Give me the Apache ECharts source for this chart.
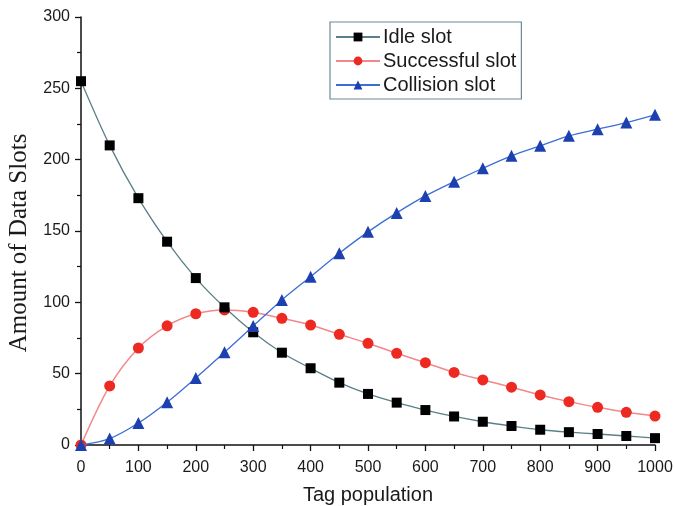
<!DOCTYPE html>
<html>
<head>
<meta charset="utf-8">
<script src="https://cdn.jsdelivr.net/npm/echarts@6/dist/echarts.min.js"></script>
<style>html,body{margin:0;padding:0;background:#fff}#c{width:674px;height:506px}</style>
</head>
<body>
<div id="c"></div>
<script>
const tagPopulation = [0,50,100,150,200,250,300,350,400,450,500,550,600,650,700,750,800,850,900,950,1000];
const idleSlot = [255,210,173,142.5,117,96.5,79,64.7,53.8,43.7,35.8,29.7,24.5,20,16.3,13.3,10.7,9,7.7,6.3,4.8];
const successfulSlot = [0,41.4,68,83.5,92,94.7,93,88.8,84.1,77.6,71.3,64.3,57.7,50.9,45.6,40.5,35.1,30.4,26.4,22.9,20.3];
const collisionSlot = [0,4.5,15.4,30,47,65,83.4,101.7,118,134.4,149.4,162.7,174.6,184.6,194,202.7,209.7,216.7,221.4,226,231.4];

const pairs = ys => tagPopulation.map((x, i) => [x, ys[i]]);
const chart = echarts.init(document.getElementById('c'));
const axisText = {color:'#1a1a1a', fontFamily:'Liberation Sans, Arial', fontSize:16, formatter: v => String(v)};
chart.setOption({
  animation:false,
  grid:{left:81,right:19,top:17,bottom:61, containLabel:false, outerBoundsMode:'none'},
  legend:{
    orient:'vertical', left:330, top:22, itemGap:4, itemWidth:44, itemHeight:11,
    borderColor:'#6d8a96', borderWidth:1.2, padding:[5,5,4,5],
    textStyle:{color:'#1a1a1a', fontFamily:'Liberation Sans, Arial', fontSize:20, padding:[0,0,0,-2]},
    data:['Idle slot','Successful slot','Collision slot']
  },
  xAxis:{
    type:'value', min:0, max:1000, interval:100,
    name:'Tag population', nameLocation:'middle', nameGap:40,
    nameTextStyle:{color:'#1a1a1a', fontFamily:'Liberation Sans, Arial', fontSize:20},
    axisLine:{lineStyle:{color:'#111', width:1.5}},
    axisTick:{show:true, length:6, lineStyle:{color:'#111', width:1.3}},
    minorTick:{show:true, splitNumber:2, length:4, lineStyle:{color:'#111', width:1.2}},
    axisLabel:Object.assign({}, axisText, {margin:15}),
    splitLine:{show:false}
  },
  yAxis:{
    type:'value', min:0, max:300, interval:50,
    name:'Amount of Data Slots', nameLocation:'middle', nameGap:46,
    nameTextStyle:{color:'#1a1a1a', fontFamily:'Liberation Serif, Times New Roman', fontSize:25, padding:[0,24,0,0]},
    axisLine:{show:true, lineStyle:{color:'#111', width:1.5}},
    axisTick:{show:true, length:6, lineStyle:{color:'#111', width:1.3}},
    minorTick:{show:true, splitNumber:2, length:4, lineStyle:{color:'#111', width:1.2}},
    axisLabel:Object.assign({}, axisText, {margin:11}),
    splitLine:{show:false}
  },
  series:[
    {name:'Idle slot', type:'line', data:pairs(idleSlot), smooth:0.3,
     symbol:'rect', symbolSize:10, lineStyle:{color:'#5b7f88', width:1.3},
     itemStyle:{color:'#000'}, z:3},
    {name:'Successful slot', type:'line', data:pairs(successfulSlot), smooth:0.3,
     symbol:'circle', symbolSize:11, lineStyle:{color:'#f2888a', width:1.5},
     itemStyle:{color:'#ec2a22'}, z:2},
    {name:'Collision slot', type:'line', data:pairs(collisionSlot), smooth:0.3,
     symbol:'triangle', symbolSize:12, lineStyle:{color:'#3b6fd6', width:1.3},
     itemStyle:{color:'#1d40b0'}, z:4}
  ]
});
</script>
</body>
</html>
